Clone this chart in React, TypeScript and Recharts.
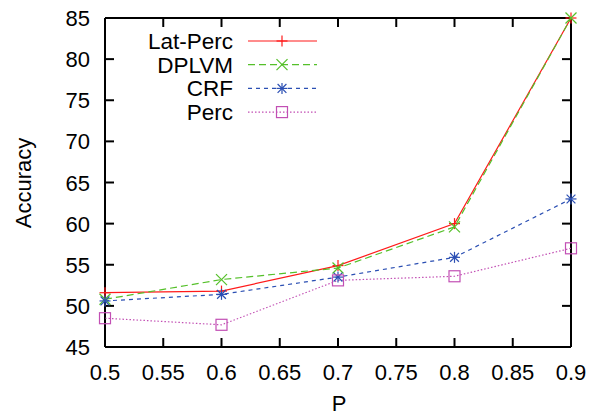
import React from 'react';
import { LineChart, Line, XAxis, YAxis, ReferenceLine } from 'recharts';

const pValues = [0.5, 0.6, 0.7, 0.8, 0.9];
const latPerc = [51.6, 51.8, 54.9, 60.0, 85.0];
const dplvm = [50.8, 53.2, 54.6, 59.6, 85.0];
const crf = [50.6, 51.4, 53.5, 55.9, 63.0];
const perc = [48.5, 47.7, 53.1, 53.6, 57.0];

const xTicks = [0.5, 0.55, 0.6, 0.65, 0.7, 0.75, 0.8, 0.85, 0.9];
const yTicks = [45, 50, 55, 60, 65, 70, 75, 80, 85];

const X_MIN = 0.5;
const X_MAX = 0.9;
const Y_MIN = 45;
const Y_MAX = 85;

const chartData = pValues.map((p, i) => ({
  p,
  latPerc: latPerc[i],
  dplvm: dplvm[i],
  crf: crf[i],
  perc: perc[i],
}));

const FONT = '"Liberation Sans", Arial, Helvetica, sans-serif';

// plot is ~466px wide and ~330px tall; inward tick length ~9px
const TICK_DX = (9 / 466) * (X_MAX - X_MIN);
const TICK_DY = (9 / 330) * (Y_MAX - Y_MIN);

type MarkerKind = 'plus' | 'cross' | 'star' | 'box';

const series = [
  { key: 'latPerc', name: 'Lat-Perc', color: '#ff1a1a', dash: undefined, marker: 'plus' as MarkerKind },
  { key: 'dplvm', name: 'DPLVM', color: '#55c02a', dash: '7 4', marker: 'cross' as MarkerKind },
  { key: 'crf', name: 'CRF', color: '#2b4fb3', dash: '4 4', marker: 'star' as MarkerKind },
  { key: 'perc', name: 'Perc', color: '#c24fb4', dash: '1.5 2', marker: 'box' as MarkerKind },
];

const Marker = ({ kind, cx, cy, color }: { kind: MarkerKind; cx: number; cy: number; color: string }) => {
  const r = 5.5;
  if (kind === 'plus') {
    return (
      <g stroke={color} strokeWidth={1.2}>
        <line x1={cx - r} y1={cy} x2={cx + r} y2={cy} />
        <line x1={cx} y1={cy - r} x2={cx} y2={cy + r} />
      </g>
    );
  }
  if (kind === 'cross') {
    return (
      <g stroke={color} strokeWidth={1.2}>
        <line x1={cx - r} y1={cy - r} x2={cx + r} y2={cy + r} />
        <line x1={cx - r} y1={cy + r} x2={cx + r} y2={cy - r} />
      </g>
    );
  }
  if (kind === 'star') {
    return (
      <g stroke={color} strokeWidth={1.2}>
        <line x1={cx - r} y1={cy} x2={cx + r} y2={cy} />
        <line x1={cx} y1={cy - r} x2={cx} y2={cy + r} />
        <line x1={cx - r * 0.8} y1={cy - r * 0.8} x2={cx + r * 0.8} y2={cy + r * 0.8} />
        <line x1={cx - r * 0.8} y1={cy + r * 0.8} x2={cx + r * 0.8} y2={cy - r * 0.8} />
      </g>
    );
  }
  return <rect x={cx - r} y={cy - r} width={2 * r} height={2 * r} fill="none" stroke={color} strokeWidth={1.2} />;
};

const makeDot = (kind: MarkerKind, color: string) => (props: any) => {
  const { cx, cy, index } = props;
  if (cx == null || cy == null) return <g key={index} />;
  return <Marker key={index} kind={kind} cx={cx} cy={cy} color={color} />;
};

const BottomTick = (props: any) => {
  const { x, y, payload } = props;
  return (
    <text x={x} y={y + 33} textAnchor="middle" fontSize={22} fontFamily={FONT} fill="#000">
      {payload.value}
    </text>
  );
};

const LeftTick = (props: any) => {
  const { x, y, payload } = props;
  return (
    <text x={x - 15} y={y + 8} textAnchor="end" fontSize={22} fontFamily={FONT} fill="#000">
      {payload.value}
    </text>
  );
};

const KeyBox = () => (
  <svg width={200} height={100} style={{ position: 'absolute', left: 141, top: 29 }}>
    {series.map((s, i) => {
      const cy = 12 + i * 23.7;
      return (
        <g key={s.key}>
          <text x={92} y={cy + 8} textAnchor="end" fontSize={22.5} fontFamily={FONT} fill="#000">
            {s.name}
          </text>
          <line x1={107} y1={cy} x2={176} y2={cy} stroke={s.color} strokeWidth={1.2} strokeDasharray={s.dash} />
          <Marker kind={s.marker} cx={141} cy={cy} color={s.color} />
        </g>
      );
    })}
  </svg>
);

const tickSegments = [
  ...xTicks.map((t) => ({ id: `xb${t}`, seg: [{ x: t, y: Y_MIN }, { x: t, y: Y_MIN + TICK_DY }] })),
  ...xTicks.map((t) => ({ id: `xt${t}`, seg: [{ x: t, y: Y_MAX }, { x: t, y: Y_MAX - TICK_DY }] })),
  ...yTicks.map((t) => ({ id: `yl${t}`, seg: [{ x: X_MIN, y: t }, { x: X_MIN + TICK_DX, y: t }] })),
  ...yTicks.map((t) => ({ id: `yr${t}`, seg: [{ x: X_MAX, y: t }, { x: X_MAX - TICK_DX, y: t }] })),
];

export default function App() {
  return (
    <div style={{ position: 'absolute', left: 0, top: 0, width: 599, height: 416, background: '#fff' }}>
      <LineChart width={599} height={416} data={chartData} margin={{ top: 18, right: 28, bottom: 0, left: 0 }}>
        <XAxis
          dataKey="p"
          type="number"
          domain={[X_MIN, X_MAX]}
          ticks={xTicks}
          height={69}
          stroke="#000"
          tickLine={false}
          tickSize={0}
          tickMargin={0}
          tick={<BottomTick />}
          interval={0}
        />
        <YAxis
          type="number"
          domain={[Y_MIN, Y_MAX]}
          ticks={yTicks}
          width={105}
          stroke="#000"
          tickLine={false}
          tickSize={0}
          tickMargin={0}
          tick={<LeftTick />}
          interval={0}
        />
        <ReferenceLine y={Y_MIN} stroke="#000" strokeWidth={2} />
        <ReferenceLine y={Y_MAX} stroke="#000" strokeWidth={2} />
        <ReferenceLine x={X_MIN} stroke="#000" strokeWidth={2} />
        <ReferenceLine x={X_MAX} stroke="#000" strokeWidth={2} />
        {tickSegments.map((t) => (
          <ReferenceLine key={t.id} segment={t.seg} stroke="#000" strokeWidth={2} />
        ))}
        {series.map((s) => (
          <Line
            key={s.key}
            dataKey={s.key}
            name={s.name}
            type="linear"
            stroke={s.color}
            strokeWidth={1.2}
            strokeDasharray={s.dash}
            dot={makeDot(s.marker, s.color)}
            activeDot={false}
            isAnimationActive={false}
          />
        ))}
        <text
          x={23}
          y={183}
          transform="rotate(-90 23 183)"
          textAnchor="middle"
          dominantBaseline="central"
          fontSize={22}
          fontFamily={FONT}
          fill="#000"
        >
          Accuracy
        </text>
        <text x={339} y={411} textAnchor="middle" fontSize={22} fontFamily={FONT} fill="#000">
          P
        </text>
      </LineChart>
      <KeyBox />
    </div>
  );
}
